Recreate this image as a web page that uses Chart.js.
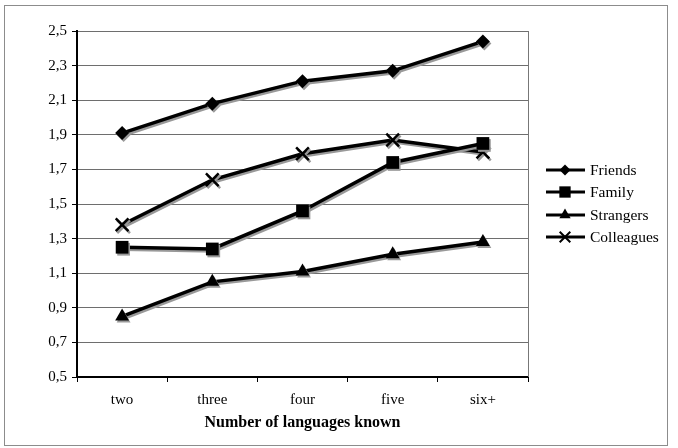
<!DOCTYPE html>
<html><head><meta charset="utf-8">
<script src="https://cdn.jsdelivr.net/npm/chart.js@4/dist/chart.umd.min.js"></script>
<style>html,body{margin:0;padding:0;background:#fff}</style>
</head><body>
<canvas id="c" width="678" height="448" style="width:678px;height:448px;display:block"></canvas>
<script>
const categories = ['two', 'three', 'four', 'five', 'six+'];
const friends = [1.91, 2.08, 2.21, 2.27, 2.44];
const family = [1.25, 1.24, 1.46, 1.74, 1.85];
const strangers = [0.85, 1.05, 1.11, 1.21, 1.28];
const colleagues = [1.38, 1.64, 1.79, 1.87, 1.80];
const seriesNames = ['Friends', 'Family', 'Strangers', 'Colleagues'];
const yTickLabels = ['0,5', '0,7', '0,9', '1,1', '1,3', '1,5', '1,7', '1,9', '2,1', '2,3', '2,5'];
const xTitle = 'Number of languages known';

const FONT = "'Liberation Serif', 'Times New Roman', serif";
const styles = [
  {pointStyle: 'rectRot', radius: 7, legendRadius: 5.5, bw: 0},
  {pointStyle: 'rect', radius: 9, legendRadius: 8, bw: 0},
  {pointStyle: 'triangle', radius: 8, legendRadius: 6.5, bw: 0},
  {pointStyle: 'crossRot', radius: 9, legendRadius: 7.5, bw: 2.5}
];
const seriesData = [friends, family, strangers, colleagues];

const datasets = seriesData.map((d, i) => ({
  label: seriesNames[i],
  data: d,
  borderColor: '#000',
  backgroundColor: '#000',
  borderWidth: 3.5,
  pointStyle: styles[i].pointStyle,
  pointRadius: styles[i].radius,
  pointBorderWidth: styles[i].bw,
  pointBackgroundColor: '#000',
  pointBorderColor: '#000',
  tension: 0,
  fill: false
}));

const framePlugin = {
  id: 'frame',
  beforeDraw(chart) {
    const ctx = chart.ctx;
    ctx.save();
    ctx.fillStyle = '#fff';
    ctx.fillRect(0, 0, chart.width, chart.height);
    ctx.strokeStyle = '#8c8c8c';
    ctx.lineWidth = 1;
    ctx.strokeRect(4.5, 5.5, 663, 440);
    ctx.restore();
  },
  beforeDatasetsDraw(chart) {
    const ctx = chart.ctx;
    const a = chart.chartArea;
    ctx.save();
    ctx.strokeStyle = '#777';
    ctx.lineWidth = 1;
    ctx.beginPath();
    ctx.moveTo(Math.round(a.right) + 0.5, a.top);
    ctx.lineTo(Math.round(a.right) + 0.5, a.bottom);
    ctx.stroke();
    ctx.restore();
    // shadow for series
    ctx.save();
    ctx.shadowColor = '#999999';
    ctx.shadowOffsetX = 1.5;
    ctx.shadowOffsetY = 2;
    ctx.shadowBlur = 0;
  },
  afterDatasetsDraw(chart) {
    chart.ctx.restore();
  },
  afterDraw(chart) {
    const ctx = chart.ctx;
    const x0 = 546, x1 = 585, xm = 565, tx = 590;
    const ys = [170, 192, 215, 237];
    ctx.save();
    seriesNames.forEach((name, i) => {
      const y = ys[i];
      ctx.strokeStyle = '#000';
      ctx.fillStyle = '#000';
      ctx.lineWidth = 3;
      ctx.beginPath();
      ctx.moveTo(x0, y);
      ctx.lineTo(x1, y);
      ctx.stroke();
      ctx.lineWidth = i === 3 ? 2 : 1;
      Chart.helpers.drawPoint(ctx, {pointStyle: styles[i].pointStyle, radius: styles[i].legendRadius, rotation: 0, borderWidth: i === 3 ? 2 : 0}, xm, y);
      ctx.font = "15.5px " + FONT;
      ctx.textBaseline = 'middle';
      ctx.textAlign = 'left';
      ctx.fillText(name, tx, y + 1);
    });
    ctx.restore();
  }
};

new Chart(document.getElementById('c'), {
  type: 'line',
  data: {labels: categories, datasets},
  options: {
    responsive: false,
    animation: false,
    devicePixelRatio: 1,
    layout: {padding: {left: 27, right: 150, top: 31, bottom: 0}},
    plugins: {legend: {display: false}, tooltip: {enabled: false}},
    scales: {
      x: {
        type: 'category',
        offset: true,
        afterFit: s => { s.height = 71; },
        grid: {display: true, drawOnChartArea: false, offset: true, tickLength: 5, tickColor: '#000', color: '#000'},
        border: {color: '#000', width: 2},
        ticks: {color: '#000', padding: 9, font: {family: FONT, size: 15}, maxRotation: 0},
        title: {display: true, text: xTitle, color: '#000', font: {family: FONT, size: 16, weight: 'bold'}, padding: {top: 0, bottom: 16}}
      },
      y: {
        min: 0.5,
        max: 2.5,
        afterFit: s => { s.width = 50; },
        afterBuildTicks: s => { s.ticks = yTickLabels.map((t, i) => ({value: 0.5 + i * 0.2})); },
        grid: {color: '#6e6e6e', lineWidth: 1, tickLength: 5, tickColor: '#000'},
        border: {color: '#000', width: 2},
        ticks: {
          color: '#000', padding: 5, font: {family: FONT, size: 15},
          callback: (v, i) => yTickLabels[i]
        }
      }
    }
  },
  plugins: [framePlugin]
});
</script>
</body></html>
